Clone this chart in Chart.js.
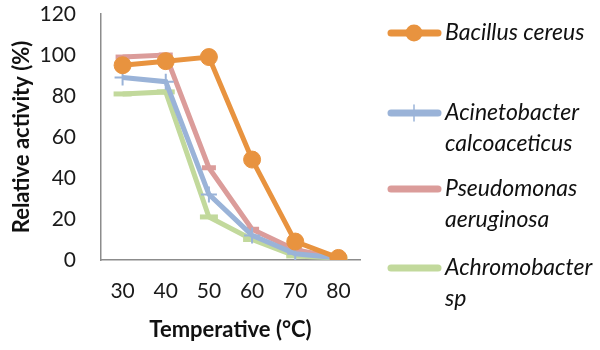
<!DOCTYPE html>
<html>
<head>
<meta charset="utf-8">
<script src="https://cdn.jsdelivr.net/npm/chart.js@4"></script>
<style>
  html, body { margin: 0; padding: 0; background: #fff; }
  #wrap { width: 600px; height: 350px; }
</style>
</head>
<body>
<div id="wrap"><canvas id="chart" width="600" height="350"></canvas></div>
<script>
const temperatures = ["30", "40", "50", "60", "70", "80"];
const bacillus = [95, 97, 99, 49, 9, 1];
const acinetobacter = [89, 87, 32, 12, 3, 1];
const pseudomonas = [99, 100, 45, 15, 5, 1];
const achromobacter = [81, 82, 21, 10, 2, 1];
const seriesNames = [
  ["Bacillus cereus"],
  ["Acinetobacter", "calcoaceticus"],
  ["Pseudomonas", "aeruginosa"],
  ["Achromobacter", "sp"],
];
const yTicks = [0, 20, 40, 60, 80, 100, 120];

const font = "Lato, 'Open Sans', sans-serif";

// legend drawn by hand because Excel legend wraps names on two lines
const sideLegend = {
  id: "sideLegend",
  afterDraw(chart) {
    const ctx = chart.ctx;
    const rows = [33, 113, 189, 268];
    chart.data.datasets.forEach((ds, i) => {
      const y = rows[i];
      ctx.save();
      ctx.strokeStyle = ds.borderColor;
      ctx.lineWidth = 7;
      ctx.lineCap = "round";
      ctx.beginPath();
      ctx.moveTo(391, y);
      ctx.lineTo(438, y);
      ctx.stroke();
      if (ds.pointStyle === "circle") {
        ctx.fillStyle = ds.borderColor;
        ctx.beginPath();
        ctx.arc(414, y, 8.5, 0, Math.PI * 2);
        ctx.fill();
      } else if (ds.pointStyle === "cross") {
        ctx.lineWidth = 1.5;
        ctx.beginPath();
        ctx.moveTo(414, y - 8);
        ctx.lineTo(414, y + 8);
        ctx.stroke();
      }
      ctx.fillStyle = "#111";
      ctx.font = "italic 23px " + font;
      ctx.textBaseline = "middle";
      ds.label.forEach((t, k) => ctx.fillText(t, 445, y + k * 31));
      ctx.restore();
    });
  },
};

new Chart(document.getElementById("chart").getContext("2d"), {
  type: "line",
  data: {
    labels: temperatures,
    datasets: [
      { label: seriesNames[0], data: bacillus, borderColor: "#E8933F", backgroundColor: "#E8933F",
        pointStyle: "circle", pointRadius: 8.5 },
      { label: seriesNames[1], data: acinetobacter, borderColor: "#9AB3D8", backgroundColor: "#9AB3D8",
        pointStyle: "cross", pointRadius: 8, pointBorderWidth: 2 },
      { label: seriesNames[2], data: pseudomonas, borderColor: "#DB9C9A", backgroundColor: "#DB9C9A",
        pointStyle: "line", pointRadius: 7, pointBorderWidth: 5 },
      { label: seriesNames[3], data: achromobacter, borderColor: "#C2D99C", backgroundColor: "#C2D99C",
        pointStyle: "line", pointRadius: 9, pointBorderWidth: 5 },
    ],
  },
  options: {
    responsive: false,
    animation: false,
    layout: { padding: { top: 4, right: 240, left: 5, bottom: 3 } },
    elements: { line: { borderWidth: 5, tension: 0 } },
    plugins: { legend: { display: false }, tooltip: { enabled: false } },
    scales: {
      x: {
        offset: true,
        afterFit(axis) { axis.height = 87; axis.paddingLeft = 0; axis.paddingRight = 0; },
        grid: { display: false, drawTicks: false },
        border: { color: "#8c8c8c", width: 1.5 },
        ticks: { color: "#1a1a1a", font: { family: font, size: 21 }, padding: 19 },
        title: { display: true, text: "Temperative (°C)", color: "#111",
          font: { family: font, size: 22, weight: "bold" }, padding: { top: 4, bottom: 4 } },
      },
      y: {
        min: 0,
        max: 120,
        afterFit(axis) { axis.width = 96; axis.paddingTop = 12; axis.paddingBottom = 0; },
        afterBuildTicks(axis) { axis.ticks = yTicks.map(v => ({ value: v })); },
        grid: { display: false, drawTicks: false },
        border: { color: "#8c8c8c", width: 1.5 },
        ticks: { color: "#1a1a1a", font: { family: font, size: 21 }, padding: 25 },
        title: { display: true, text: "Relative activity (%)", color: "#111",
          font: { family: font, size: 22, weight: "bold" }, padding: { top: 4, bottom: 2 } },
      },
    },
  },
  plugins: [sideLegend],
});
</script>
</body>
</html>
